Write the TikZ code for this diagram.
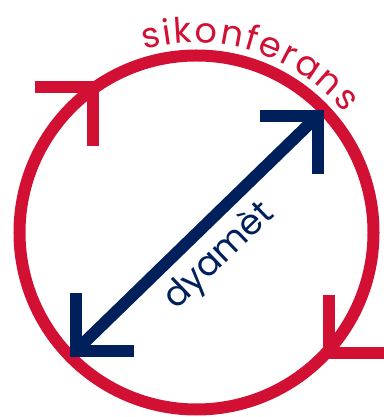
\documentclass[tikz,border=0pt]{standalone}
\usepackage{fontspec}
\newfontfamily\geofont{Poppins}
\usetikzlibrary{calc,decorations.text}
\definecolor{hred}{HTML}{D21034}
\definecolor{hblue}{HTML}{00205B}

\begin{document}
\begin{tikzpicture}[
  x=1pt, y=1pt,
  ring/.style={draw=hred, line width=12pt},
  redhead/.style={draw=hred, line width=12pt},
  bluearr/.style={draw=hblue, line width=12pt},
  diamtext/.style={font=\geofont\fontsize{35}{35}\selectfont, text=hblue, inner sep=0pt},
]
\useasboundingbox (0,0) rectangle (383,417);
\coordinate (c) at (196.5,184.5);
\draw[ring] (c) circle (177pt);

% red heads on the ring (clockwise)
\coordinate (tl) at (93,330);
\coordinate (br) at (329,64);
\draw[redhead] ($(tl)+(-58,0)$) -- (tl) -- ++(0,-59);
\draw[redhead] ($(br)+(0,58)$) -- (br) -- ++(58,0);

% diameter
\coordinate (ur) at (317.5,301);
\coordinate (dl) at (75.5,66);
\draw[bluearr] (dl) -- (ur);
\draw[bluearr] ($(ur)+(-58,0)$) -- (ur) -- ++(0,-58);
\draw[bluearr] ($(dl)+(0,58)$) -- (dl) -- ++(58,0);
\node[diamtext, rotate=44] (dyam) at ($(c)+(23,-24)$) {dyamèt};

% text along the top of the ring
\path[decorate, decoration={text along path, text align=fit to path, text color=hred,
  text={|\geofont\fontsize{35}{35}\selectfont|sikonferans}}]
  ($(c)+(106:190)$) arc[start angle=106, end angle=39, radius=190];
\end{tikzpicture}
\end{document}
